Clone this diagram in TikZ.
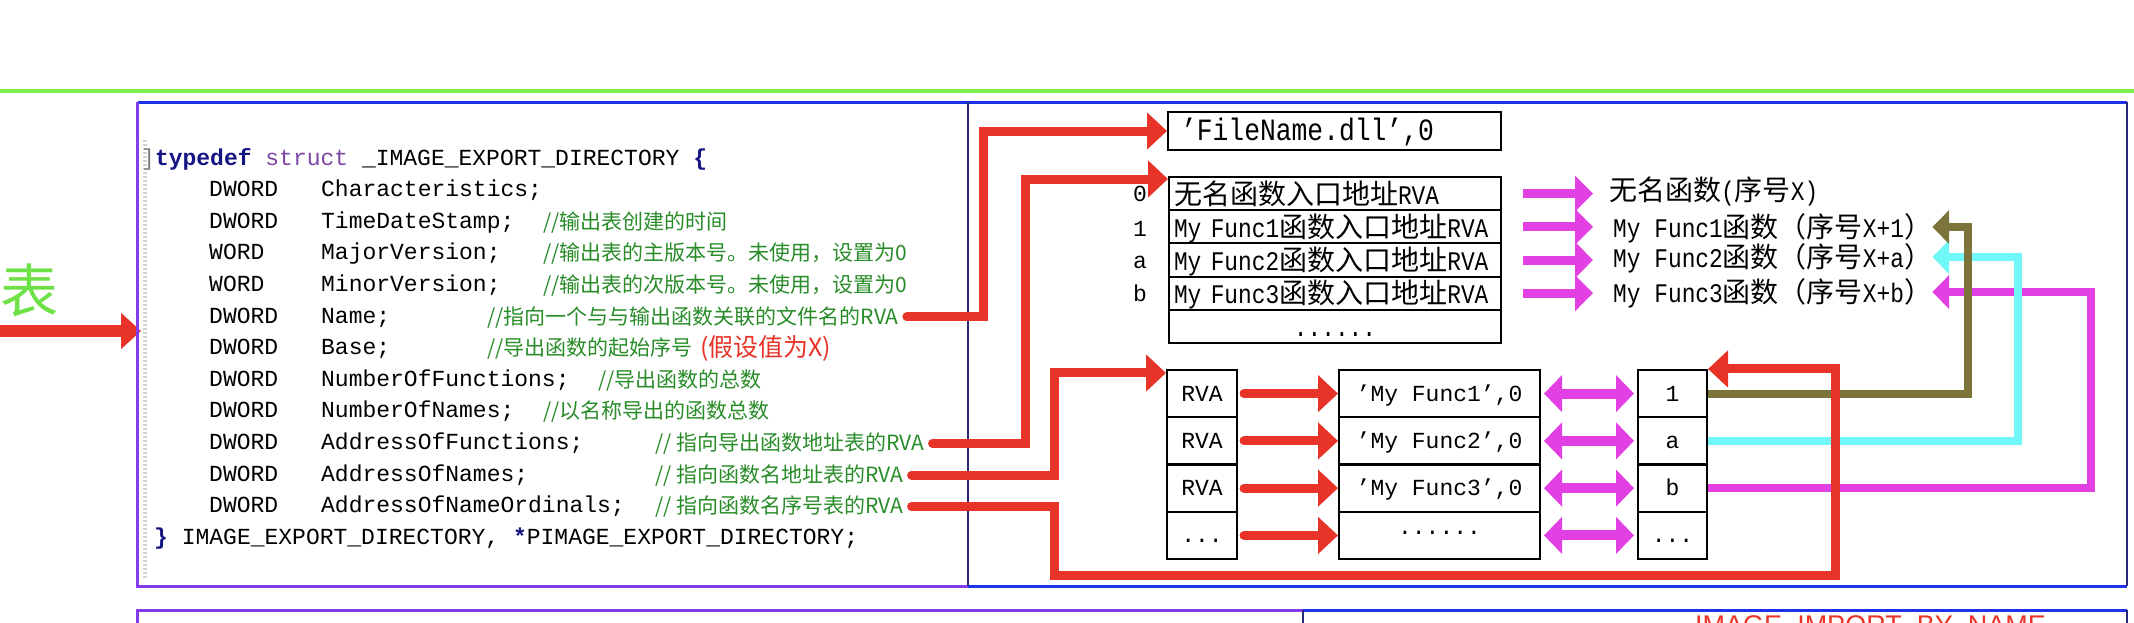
\documentclass[tikz,border=0pt]{standalone}
\usepackage{fontspec}
\setmainfont{Liberation Sans}
\setmonofont{Liberation Mono}
\newfontfamily\cjk{Noto Sans CJK SC}
\newfontfamily\tm[Scale=0.96,FakeStretch=0.85]{Liberation Mono}
\newfontfamily\tmw[FakeStretch=0.85]{Liberation Mono}
\usetikzlibrary{arrows.meta,calc}
\definecolor{lgreen}{RGB}{120,240,80}
\definecolor{zhgreen}{RGB}{110,225,70}
\definecolor{cgreen}{RGB}{40,140,40}
\definecolor{navy}{RGB}{20,20,130}
\definecolor{structc}{RGB}{125,70,165}
\definecolor{arred}{RGB}{232,52,40}
\definecolor{mag}{RGB}{226,64,226}
\definecolor{cya}{RGB}{112,248,248}
\definecolor{oli}{RGB}{125,116,60}
\definecolor{bpurple}{RGB}{130,60,235}
\definecolor{bblue}{RGB}{30,50,235}
\definecolor{bnavy}{RGB}{40,40,120}
\tikzset{
  code/.style={anchor=base west, inner sep=0pt, font=\fontsize{23}{26}\selectfont\ttfamily},
  cmt/.style={anchor=base west, inner sep=0pt, text=cgreen, font=\fontsize{21}{24}\selectfont\cjk},
  cell/.style={draw=black, line width=2pt, inner sep=0pt, align=center},
  ftab/.style={cell, minimum width=332pt, minimum height=33.2pt, text width=322pt, align=left,
    font=\fontsize{28}{30}\selectfont\cjk, text height=22pt, text depth=1pt},
  mtab/.style={cell, minimum height=47.25pt, font=\fontsize{23}{26}\selectfont\ttfamily,
    text height=17pt, text depth=2pt},
  lab/.style={anchor=west, inner sep=0pt, font=\fontsize{28}{30}\selectfont\cjk, text height=22pt, text depth=1pt},
  rarr/.style={draw=arred, line width=9pt, line cap=round, -{Triangle[length=20pt,width=36pt]}},
  marr/.style={draw=mag, line width=9pt, -{Triangle[length=18pt,width=35pt]}},
  dmag/.style={draw=mag, line width=10pt, {Triangle[length=18pt,width=36pt]}-{Triangle[length=18pt,width=36pt]}},
  back/.style={draw=#1, line width=8pt, -{Triangle[length=17pt,width=33pt]}},
}
\begin{document}
\begin{tikzpicture}[x=1pt,y=-1pt]
\useasboundingbox (0,0) rectangle (2134,622);
\clip (0,0) rectangle (2134,622);
\fill[white] (0,0) rectangle (2134,622);

% top green rule
\draw[lgreen, line width=4pt] (0,91) -- (2134,91);

% big green character and entry arrow
\node[font=\fontsize{58}{58}\selectfont\cjk, text=zhgreen, inner sep=0pt] (biao) at (30,290) {表};
\coordinate (la) at (0,331);
\coordinate (lb) at (141,331);
\draw[draw=arred, line width=12pt, -{Triangle[length=20pt,width=35pt]}] (la) -- (lb);

% frames
\draw[bblue, line width=3pt] (137.5,102) -- (2127,102);
\draw[bpurple, line width=3pt] (137.5,102) -- (137.5,586) -- (968,586);
\draw[bblue, line width=3pt] (968,586) -- (2127,586);
\draw[bnavy, line width=2.5pt] (968,102) -- (968,586);
\draw[bnavy, line width=2.5pt] (2127,102) -- (2127,586);
\draw[bpurple, line width=3pt] (137.5,640) -- (137.5,610) -- (1303,610);
\draw[bblue, line width=3pt] (1303,610) -- (2127,610);
\draw[bnavy, line width=2.5pt] (1303,610) -- (1303,640);
\draw[bnavy, line width=2.5pt] (2127,610) -- (2127,640);
\draw[gray!35, line width=4pt, dash pattern=on 2pt off 2pt] (145,140) -- (145,578);

\node[anchor=north west, inner sep=0pt, text=arred, font=\fontsize{27}{29}\selectfont] (imp) at (1695,615) {IMAGE\_IMPORT\_BY\_NAME};

% code
\node[code] (l0) at (141,165) {\textcolor{gray}{]}\textbf{\textcolor{navy}{typedef}} \textcolor{structc}{struct} \_IMAGE\_EXPORT\_DIRECTORY \textbf{\textcolor{navy}{\{}}};
\node[code] (l1) at (209,196.6) {\makebox[112pt][l]{DWORD}Characteristics;};
\node[code] (l2) at (209,228.2) {\makebox[112pt][l]{DWORD}TimeDateStamp;};
\node[code] (l3) at (209,259.8) {\makebox[112pt][l]{WORD}MajorVersion;};
\node[code] (l4) at (209,291.4) {\makebox[112pt][l]{WORD}MinorVersion;};
\node[code] (l5) at (209,323) {\makebox[112pt][l]{DWORD}Name;};
\node[code] (l6) at (209,354.6) {\makebox[112pt][l]{DWORD}Base;};
\node[code] (l7) at (209,386.2) {\makebox[112pt][l]{DWORD}NumberOfFunctions;};
\node[code] (l8) at (209,417.8) {\makebox[112pt][l]{DWORD}NumberOfNames;};
\node[code] (l9) at (209,449.4) {\makebox[112pt][l]{DWORD}AddressOfFunctions;};
\node[code] (l10) at (209,481) {\makebox[112pt][l]{DWORD}AddressOfNames;};
\node[code] (l11) at (209,512.6) {\makebox[112pt][l]{DWORD}AddressOfNameOrdinals;};
\node[code] (l12) at (154,544.2) {\textbf{\textcolor{navy}{\}}} IMAGE\_EXPORT\_DIRECTORY, \textbf{\textcolor{navy}{*}}PIMAGE\_EXPORT\_DIRECTORY;};

% comments
\node[cmt] (c2) at (543,229.2) {//输出表创建的时间};
\node[cmt] (c3) at (543,260.8) {//输出表的主版本号。未使用，设置为0};
\node[cmt] (c4) at (543,292.4) {//输出表的次版本号。未使用，设置为0};
\node[cmt] (cName) at (487,324) {//指向一个与与输出函数关联的文件名的RVA};
\node[cmt] (cBase) at (487,355.6) {//导出函数的起始序号};
\node[anchor=base west, inner sep=0pt, text=arred, font=\fontsize{25}{28}\selectfont\cjk] (cX) at (700,356.5) {(假设值为X)};
\node[cmt] (c7) at (598,387.2) {//导出函数的总数};
\node[cmt] (c8) at (543,418.8) {//以名称导出的函数总数};
\node[cmt] (cAF) at (655,450.4) {// 指向导出函数地址表的RVA};
\node[cmt] (cAN) at (655,482) {// 指向函数名地址表的RVA};
\node[cmt] (cAO) at (655,513.6) {// 指向函数名序号表的RVA};

% file name
\node[cell, minimum width=333pt, minimum height=38pt, text width=307pt, align=left,
  font=\fontsize{31}{33}\selectfont\tmw, text height=21pt, text depth=2pt] (fname) at (1334.5,131) {’FileName.dll’,0};

% function address table
\node[ftab] (f0) at (1335,193.6) {无名函数入口地址{\tm RVA}};
\node[ftab] (f1) at (1335,226.8) {{\tm My Func1}函数入口地址{\tm RVA}};
\node[ftab] (f2) at (1335,260.0) {{\tm My Func2}函数入口地址{\tm RVA}};
\node[ftab] (f3) at (1335,293.2) {{\tm My Func3}函数入口地址{\tm RVA}};
\node[ftab, align=center] (f4) at (1335,326.4) {{\tm ......}};
\node[code, anchor=center] (rl0) at (1140,193.6) {0};
\node[code, anchor=center] (rl1) at (1140,228.8) {1};
\node[code, anchor=center] (rl2) at (1140,262) {a};
\node[code, anchor=center] (rl3) at (1140,293.2) {b};

% name RVA table
\node[mtab, minimum width=70pt] (r0) at (1202,393.6) {RVA};
\node[mtab, minimum width=70pt] (r1) at (1202,440.9) {RVA};
\node[mtab, minimum width=70pt] (r2) at (1202,488.1) {RVA};
\node[mtab, minimum width=70pt] (r3) at (1202,535.4) {...};
% name strings
\node[mtab, minimum width=201pt] (n0) at (1439.5,393.6) {’My Func1’,0};
\node[mtab, minimum width=201pt] (n1) at (1439.5,440.9) {’My Func2’,0};
\node[mtab, minimum width=201pt] (n2) at (1439.5,488.1) {’My Func3’,0};
\node[mtab, minimum width=201pt, text height=2pt, text depth=4pt] (n3) at (1439.5,535.4) {......};
% ordinals
\node[mtab, minimum width=69pt] (o0) at (1672.5,393.6) {1};
\node[mtab, minimum width=69pt] (o1) at (1672.5,440.9) {a};
\node[mtab, minimum width=69pt] (o2) at (1672.5,488.1) {b};
\node[mtab, minimum width=69pt] (o3) at (1672.5,535.4) {...};

% function labels
\node[lab] (lab0) at (1609,190) {无名函数{\tm (}序号{\tm X)}};
\node[lab] (lab1) at (1613,227) {{\tm My Func1}函数（序号{\tm X+1}）};
\node[lab] (lab2) at (1613,257) {{\tm My Func2}函数（序号{\tm X+a}）};
\node[lab] (lab3) at (1613,292) {{\tm My Func3}函数（序号{\tm X+b}）};

% magenta arrows table -> labels
\draw[marr] ([xshift=21pt]f0.east) -- ($(f0.east -| lab0.west)+(-16,0)$);
\draw[marr] ([xshift=21pt]f1.east) -- ($(f1.east -| lab1.west)+(-20,0)$);
\draw[marr] ([xshift=21pt]f2.east) -- ($(f2.east -| lab2.west)+(-20,0)$);
\draw[marr] ([xshift=21pt]f3.east) -- ($(f3.east -| lab3.west)+(-20,0)$);

% RVA -> names
\draw[rarr] ([xshift=6pt]r0.east) -- (n0.west);
\draw[rarr] ([xshift=6pt]r1.east) -- (n1.west);
\draw[rarr] ([xshift=6pt]r2.east) -- (n2.west);
\draw[rarr] ([xshift=6pt]r3.east) -- (n3.west);

% names <-> ordinals
\draw[dmag] ([xshift=3pt]n0.east) -- ([xshift=-3pt]o0.west);
\draw[dmag] ([xshift=3pt]n1.east) -- ([xshift=-3pt]o1.west);
\draw[dmag] ([xshift=3pt]n2.east) -- ([xshift=-3pt]o2.west);
\draw[dmag] ([xshift=3pt]n3.east) -- ([xshift=-3pt]o3.west);

% ordinals -> function labels
\coordinate (oc) at (1968,0);
\coordinate (cc) at (2018,0);
\coordinate (mc) at (2091,0);
\draw[back=mag] (o2.east) -| (lab3.east -| mc) -- (lab3.east);
\draw[back=cya] (o1.east) -| (lab2.east -| cc) -- (lab2.east);
\draw[back=oli] (o0.east) -| (lab1.east -| oc) -- (lab1.east);

% structure fields -> tables
\coordinate (c1) at (983,0);
\coordinate (c2x) at (1025,0);
\coordinate (c3x) at (1054,0);
\coordinate (c4x) at (1054,575);
\coordinate (rc) at (1835,0);
\coordinate (t2) at ($(f0.north west)+(0,3)$);
\coordinate (t3) at ($(r0.north west)+(0,4)$);
\draw[rarr] ([xshift=8pt]cName.east) -| (fname.west -| c1) -- (fname.west);
\draw[rarr] ([xshift=8pt]cAF.east) -| (t2 -| c2x) -- (t2);
\draw[rarr] ([xshift=8pt]cAN.east) -| (t3 -| c3x) -- (t3);
\draw[rarr] ([xshift=8pt]cAO.east) -| (c4x) -| (o0.north east -| rc) -- (o0.north east);
\end{tikzpicture}
\end{document}
